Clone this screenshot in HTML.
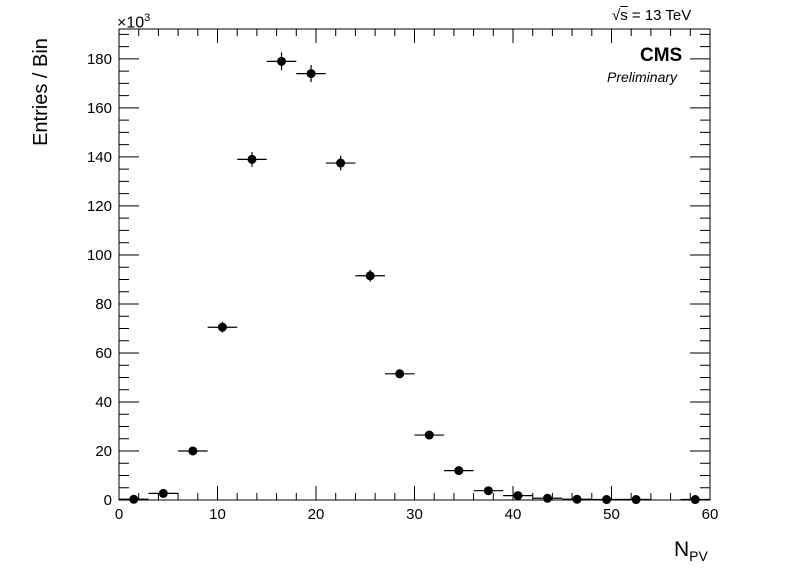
<!DOCTYPE html>
<html><head><meta charset="utf-8"><style>
body{margin:0;background:#fff;}
svg{display:block;font-family:"Liberation Sans",sans-serif;}
</style></head><body>
<svg id="c" width="798" height="576"></svg>
<script>
const binCenters=[1.5,4.5,7.5,10.5,13.5,16.5,19.5,22.5,25.5,28.5,31.5,34.5,37.5,40.5,43.5,46.5,49.5,52.5,58.5];
const entries=[0.3,2.7,20,70.5,139,179,174,137.5,91.5,51.5,26.5,12,3.8,1.8,0.7,0.3,0.2,0.2,0.2];
const errors=[0.3,0.8,1.3,2.2,3,3.6,3.5,3,2.4,1.8,1.2,0.8,0.5,0.3,0.2,0.1,0.1,0.1,0.1];
const xTicks=[0,10,20,30,40,50,60];
const yTicks=[0,20,40,60,80,100,120,140,160,180];
const L=119,R=710,T=29,B=500,XMAX=60,YMAX=192.2;
const sx=v=>L+(R-L)*v/XMAX, sy=v=>B-(B-T)*v/YMAX;
const NS="http://www.w3.org/2000/svg", svg=document.getElementById('c');
function mk(tag,at,parent){const e=document.createElementNS(NS,tag);for(const k in at)e.setAttribute(k,at[k]);(parent||svg).appendChild(e);return e;}
const frame=mk('rect',{x:L,y:T,width:R-L,height:B-T,fill:'none',stroke:'#000','stroke-width':1});


for(let v=0;v<=XMAX;v+=2){const major=v%10===0,len=major?14:7,x=sx(v);
 const t=mk('path',{d:`M${x},${B}v${-len}M${x},${T}v${len}`,stroke:'#000','stroke-width':1});
 
 }
for(let v=0;v<=190;v+=5){const major=v%20===0,len=major?20:10,y=sy(v);
 const t=mk('path',{d:`M${L},${y}h${len}M${R},${y}h${-len}`,stroke:'#000','stroke-width':1});
 
 }
xTicks.forEach(v=>{const t=mk('text',{x:sx(v),y:519,'font-size':15,'text-anchor':'middle'});t.textContent=v;
 
 });
yTicks.forEach(v=>{const t=mk('text',{x:112,y:sy(v)+5,'font-size':15,'text-anchor':'end'});t.textContent=v;
 
 });
binCenters.forEach((c,i)=>{const g=mk('g',{});
 
 
 const x=sx(c),y=sy(entries[i]);
 mk('path',{d:`M${sx(c-1.5)},${y}H${sx(c+1.5)}M${x},${sy(entries[i]+errors[i])}V${sy(Math.max(0,entries[i]-errors[i]))}`,stroke:'#000','stroke-width':1.2},g);
 mk('circle',{cx:x,cy:y,r:4.5,fill:'#000'},g);});
</script>
<div style="position:absolute;left:117px;top:12px;font:16px 'Liberation Sans',sans-serif;">×10<sup style="font-size:11px">3</sup></div>
<div style="position:absolute;left:612px;top:7px;font:15px 'Liberation Sans',sans-serif;">√<span style="text-decoration:overline">s</span> = 13 TeV</div>
<div style="position:absolute;left:640px;top:45px;font:bold 19px 'Liberation Sans',sans-serif;">CMS</div>
<div style="position:absolute;left:607px;top:69px;font:italic 14px 'Liberation Sans',sans-serif;">Preliminary</div>
<div style="position:absolute;left:-18px;width:120px;text-align:center;transform:rotate(-90deg);transform-origin:60px 12px;font:20px 'Liberation Sans',sans-serif;top:80px">Entries / Bin</div>
<div style="position:absolute;left:674px;top:538px;font:21px 'Liberation Sans',sans-serif;">N<sub style="font-size:14px">PV</sub></div>
</body></html>
